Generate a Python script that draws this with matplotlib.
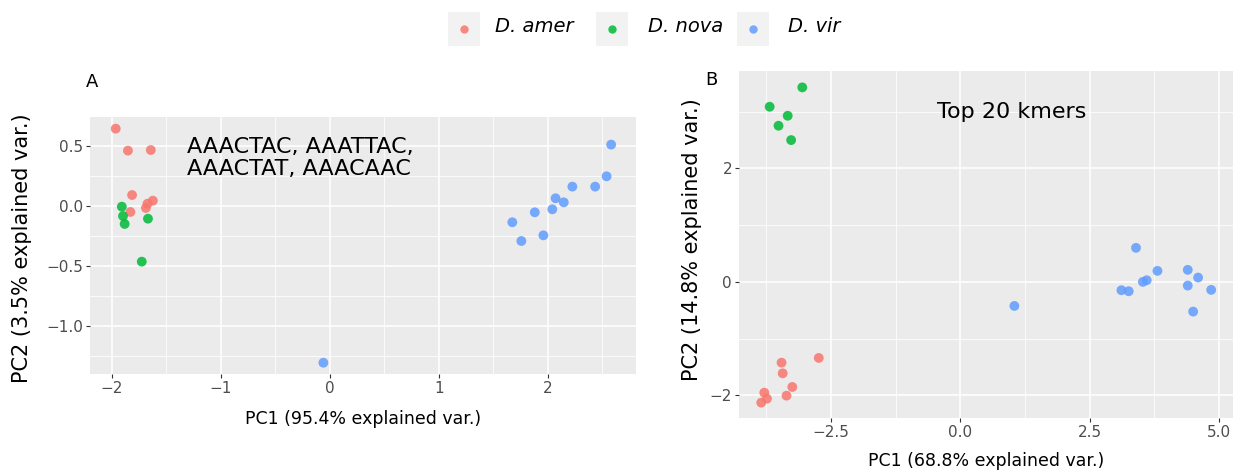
import matplotlib
matplotlib.use("Agg")
import matplotlib.pyplot as plt
from matplotlib.patches import Rectangle
from matplotlib.lines import Line2D
from matplotlib.ticker import MultipleLocator

plt.rcParams['font.family'] = ['DejaVu Sans']

species = ["D. amer", "D. nova", "D. vir"]
colors = ["#F8766D", "#00BA38", "#619CFF"]

# ---- Panel A data ----
a_amer_pc1 = [-1.966, -1.854, -1.644, -1.816, -1.625, -1.674, -1.689, -1.831]
a_amer_pc2 = [0.647, 0.464, 0.469, 0.094, 0.047, 0.022, -0.014, -0.047]
a_nova_pc1 = [-1.910, -1.899, -1.884, -1.670, -1.727]
a_nova_pc2 = [-0.003, -0.081, -0.147, -0.103, -0.461]
a_vir_pc1 = [2.581, 2.539, 2.434, 2.225, 2.071, 2.146, 2.041, 1.880, 1.674, 1.757, 1.959, -0.06]
a_vir_pc2 = [0.514, 0.250, 0.164, 0.164, 0.067, 0.033, -0.025, -0.050, -0.133, -0.289, -0.242, -1.303]

# ---- Panel B data ----
b_amer_pc1 = [-2.737, -3.457, -3.435, -3.249, -3.791, -3.361, -3.739, -3.850]
b_amer_pc2 = [-1.341, -1.424, -1.612, -1.853, -1.953, -2.006, -2.059, -2.129]
b_nova_pc1 = [-3.056, -3.687, -3.338, -3.516, -3.272]
b_nova_pc2 = [3.429, 3.088, 2.929, 2.753, 2.500]
b_vir_pc1 = [1.046, 3.398, 3.813, 3.605, 3.531, 3.116, 3.257, 4.399, 4.599, 4.399, 4.852, 4.503]
b_vir_pc2 = [-0.424, 0.600, 0.194, 0.029, 0.000, -0.147, -0.165, 0.212, 0.076, -0.065, -0.141, -0.524]

W, H = 1239, 473
fig = plt.figure(figsize=(W / 100, H / 100), dpi=100)

def box(l, t, r, b):
    return [l / W, 1 - b / H, (r - l) / W, (b - t) / H]

axA = fig.add_axes(box(90, 117, 636, 374))
axB = fig.add_axes(box(739, 71, 1233, 418))

def style(ax, xmaj, xmin, ymaj, ymin):
    ax.set_facecolor("#EBEBEB")
    for s in ax.spines.values():
        s.set_visible(False)
    ax.xaxis.set_major_locator(MultipleLocator(xmaj))
    ax.xaxis.set_minor_locator(MultipleLocator(xmin))
    ax.yaxis.set_major_locator(MultipleLocator(ymaj))
    ax.yaxis.set_minor_locator(MultipleLocator(ymin))
    ax.grid(True, which="major", color="white", lw=1.1)
    ax.grid(True, which="minor", color="white", lw=0.55)
    ax.set_axisbelow(True)
    ax.tick_params(which="major", length=3, width=0.8, color="#333333",
                   labelcolor="#4D4D4D", labelsize=11, pad=2)
    ax.tick_params(which="minor", length=0)

groupsA = [(a_amer_pc1, a_amer_pc2), (a_nova_pc1, a_nova_pc2), (a_vir_pc1, a_vir_pc2)]
groupsB = [(b_amer_pc1, b_amer_pc2), (b_nova_pc1, b_nova_pc2), (b_vir_pc1, b_vir_pc2)]

for ax, groups in ((axA, groupsA), (axB, groupsB)):
    for (x, y), c in zip(groups, colors):
        ax.scatter(x, y, s=50, color=c, alpha=0.85, edgecolors="none", zorder=3)

style(axA, 1, 0.5, 0.5, 0.25)
axA.set_xlim(-2.202, 2.809)
axA.set_ylim(-1.397, 0.744)
axA.set_xlabel("PC1 (95.4% explained var.)", fontsize=12.5)
axA.set_ylabel("PC2 (3.5% explained var.)", fontsize=15)
axA.xaxis.set_label_coords(0.5, -0.142)
axA.yaxis.set_label_coords(-0.106, 0.49)
axA.text(-1.31, 0.40, "AAACTAC, AAATTAC,\nAAACTAT, AAACAAC", fontsize=16,
         ha="left", va="center", linespacing=1.12)

style(axB, 2.5, 1.25, 2, 1)
axB.set_xlim(-4.28, 5.274)
axB.set_ylim(-2.4, 3.718)
axB.set_xlabel("PC1 (68.8% explained var.)", fontsize=12.5)
axB.set_ylabel("PC2 (14.8% explained var.)", fontsize=15)
axB.xaxis.set_label_coords(0.5, -0.098)
axB.yaxis.set_label_coords(-0.075, 0.513)
axB.text(1.0, 2.99, "Top 20 kmers", fontsize=16, ha="center", va="center")

fig.text(92 / W, 1 - 82 / H, "A", fontsize=13, ha="center", va="center")
fig.text(711 / W, 1 - 80 / H, "B", fontsize=13, ha="center", va="center")

# ---- legend ----
keys = [(448, 495), (596, 648), (737, 788)]
for (kx, tx), lab, c in zip(keys, species, colors):
    fig.add_artist(Rectangle((kx / W, 1 - 46 / H), 32 / W, 34 / H,
                             transform=fig.transFigure, facecolor="#F2F2F2",
                             edgecolor="none"))
    fig.add_artist(Line2D([(kx + 16) / W], [1 - 29 / H], marker="o", markersize=6,
                          color=c, alpha=0.85, markeredgewidth=0, linestyle="none",
                          transform=fig.transFigure))
    fig.text(tx / W, 1 - 26 / H, lab, fontsize=14, style="italic",
             ha="left", va="center")

fig.savefig("out.png", dpi=100)
